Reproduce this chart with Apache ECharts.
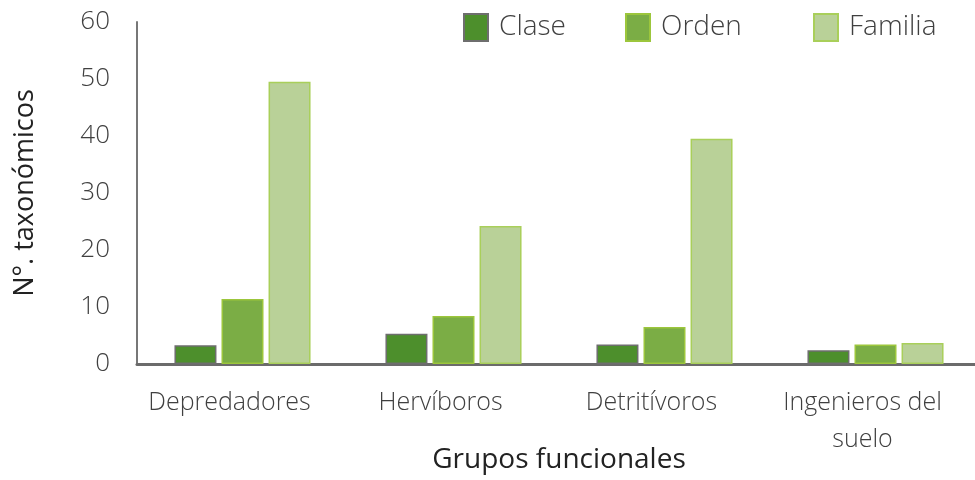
<!DOCTYPE html>
<html>
<head>
<meta charset="utf-8">
<script src="https://cdn.jsdelivr.net/npm/echarts@6/dist/echarts.min.js"></script>
<style>
html, body { margin: 0; padding: 0; background: #fff; }
#main { width: 975px; height: 480px; }
</style>
</head>
<body>
<div id="main"></div>
<script>
var categories = ['Depredadores', 'Hervíboros', 'Detritívoros', 'Ingenieros del\nsuelo'];
var clase = [3.3, 5.3, 3.4, 2.4];
var orden = [11.4, 8.4, 6.5, 3.4];
var familia = [49.5, 24.2, 39.5, 3.7];
var yTicks = [0, 10, 20, 30, 40, 50, 60];

var font = '"Open Sans", "Noto Sans", sans-serif';
var txt = '#404040';
var fills = ['#4d8f2c', '#7bad45', '#b9d198'];
var borders = ['#6e6e6e', '#9cc63c', '#a9cf5a'];

var myChart = echarts.init(document.getElementById('main'));

function legendAt(name, left) {
	return {
		data: [name],
		left: left,
		top: 8,
		icon: 'rect',
		itemWidth: 24,
		itemHeight: 27,
		itemGap: 0,
		textStyle: { fontFamily: font, fontSize: 28, fontWeight: 300, color: txt, padding: [0, 0, 0, 6] }
	};
}

var option = {
	animation: false,
	legend: [legendAt('Clase', 458), legendAt('Orden', 620), legendAt('Familia', 808)],
	grid: { left: 137, right: -6, top: 22, bottom: 116, outerBoundsMode: 'none', containLabel: false },
	xAxis: {
		type: 'category',
		data: categories,
		name: 'Grupos funcionales',
		nameLocation: 'middle',
		nameGap: 82,
		nameMoveOverlap: false,
		nameTextStyle: { fontFamily: font, fontSize: 28, color: '#222' },
		axisLine: { lineStyle: { color: '#6b6b6b', width: 3 } },
		axisTick: { show: false },
		axisLabel: {
			fontFamily: font, fontSize: 25, fontWeight: 300, color: txt, margin: 20, lineHeight: 37,
			interval: 0, padding: [0, 26, 0, 0]
		}
	},
	yAxis: {
		type: 'value',
		min: 0,
		max: 60,
		interval: 10,
		name: 'N°. taxonómicos',
		nameLocation: 'middle',
		nameGap: 98,
		nameMoveOverlap: false,
		nameTextStyle: { fontFamily: font, fontSize: 27, color: '#222' },
		axisLine: { show: true, lineStyle: { color: '#777', width: 2 } },
		axisTick: { show: false },
		splitLine: { show: false },
		axisLabel: {
			fontFamily: font, fontSize: 26, fontWeight: 300, color: txt, margin: 27,
			formatter: function (v) { return yTicks.indexOf(v) >= 0 ? String(v) : ''; }
		}
	},
	series: [
		{ name: 'Clase', type: 'bar', data: clase, barWidth: 42, barGap: '12%',
		  itemStyle: { color: fills[0], borderColor: borders[0], borderWidth: 1.5 } },
		{ name: 'Orden', type: 'bar', data: orden, barWidth: 42, barGap: '12%',
		  itemStyle: { color: fills[1], borderColor: borders[1], borderWidth: 1.5 } },
		{ name: 'Familia', type: 'bar', data: familia, barWidth: 42, barGap: '12%',
		  itemStyle: { color: fills[2], borderColor: borders[2], borderWidth: 1.5 } }
	]
};

myChart.setOption(option);
</script>
</body>
</html>
